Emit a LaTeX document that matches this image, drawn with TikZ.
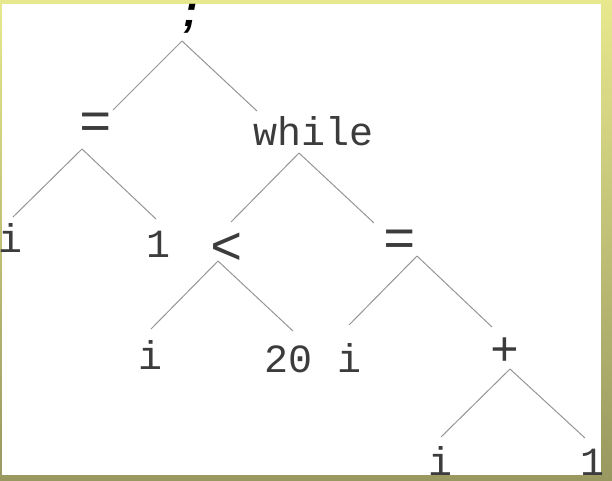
\documentclass[tikz,border=0pt]{standalone}
\usepackage{fontspec}
\usepackage{tikz}
\usepackage{xcolor}
\usetikzlibrary{calc}
\setmainfont{Liberation Sans}
\setmonofont{Liberation Mono}
\definecolor{frametop}{RGB}{232,232,142}
\definecolor{framebot}{RGB}{152,152,96}
\definecolor{ink}{RGB}{60,60,60}
\definecolor{branch}{RGB}{150,150,150}

\begin{document}
\begin{tikzpicture}[x=1pt, y=-1pt,
        tok/.style={anchor=base, inner sep=0pt, text=ink,
            font=\ttfamily\fontsize{40}{40}\selectfont},
        op/.style={tok, font=\ttfamily\fontsize{#1}{#1}\selectfont},
        branch/.style={draw=branch, line width=1pt}]
    % frame
    \shade[top color=frametop, bottom color=framebot] (0, 0) rectangle (612, 480);
    \fill[white] (2, 4) rectangle (601, 475);
    \useasboundingbox (0, 0) rectangle (612, 480);

    % tokens
    \node[tok, text=black, font=\bfseries\itshape\fontsize{44}{44}\selectfont] (semi) at (191, 26) {;};
    \node[op=54] (eqA) at (96, 139) {=};
    \node[tok] (while) at (314, 145) {while};
    \node[tok] (iA) at (11, 252) {i};
    \node[tok] (oneA) at (158, 257) {1};
    \node[op=54] (lt) at (227, 264) {<};
    \node[op=54] (eqB) at (400, 256) {=};
    \node[tok] (iB) at (150, 369) {i};
    \node[tok] (twenty) at (288, 372) {20};
    \node[tok] (iC) at (349, 372) {i};
    \node[op=48] (plus) at (505, 365) {+};
    \node[tok] (iD) at (440, 475) {i};
    \node[tok] (oneB) at (592, 475) {1};

    % branches
    \draw[branch] ($(semi.base)+(-9, 15)$) -- ($(eqA.base)+(17, -29)$);
    \draw[branch] ($(semi.base)+(-9, 15)$) -- ($(while.base)+(-57, -34)$);
    \draw[branch] ($(eqA.base)+(-14, 10)$) -- ($(iA.base)+(2, -35)$);
    \draw[branch] ($(eqA.base)+(-14, 10)$) -- ($(oneA.base)+(-2, -38)$);
    \draw[branch] ($(while.base)+(-15, 8)$) -- ($(lt.base)+(4, -42)$);
    \draw[branch] ($(while.base)+(-15, 8)$) -- ($(eqB.base)+(-26, -33)$);
    \draw[branch] ($(lt.base)+(-9, -3)$) -- ($(iB.base)+(1, -40)$);
    \draw[branch] ($(lt.base)+(-9, -3)$) -- ($(twenty.base)+(5, -41)$);
    \draw[branch] ($(eqB.base)+(17, 0)$) -- ($(iC.base)+(0, -47)$);
    \draw[branch] ($(eqB.base)+(17, 0)$) -- ($(plus.base)+(-13, -38)$);
    \draw[branch] ($(plus.base)+(5, 4)$) -- ($(iD.base)+(1, -38)$);
    \draw[branch] ($(plus.base)+(5, 4)$) -- ($(oneB.base)+(-7, -37)$);
\end{tikzpicture}
\end{document}
